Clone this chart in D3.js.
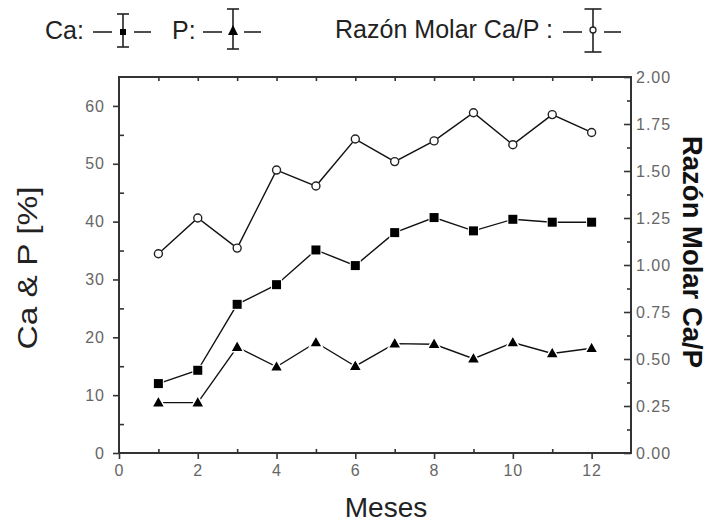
<!DOCTYPE html>
<html><head><meta charset="utf-8">
<script src="https://cdn.jsdelivr.net/npm/d3@7"></script>
<style>body{margin:0;background:#fff}svg{display:block;font-family:"Liberation Sans",Arial,sans-serif}</style>
</head><body>
<svg id="c" width="723" height="524"></svg>
<script>
const months = [1,2,3,4,5,6,7,8,9,10,11,12];
const ca = [12.0,14.3,25.7,29.1,35.1,32.4,38.1,40.7,38.4,40.4,39.9,39.9];
const p = [8.7,8.7,18.3,14.9,19.1,15.0,18.9,18.8,16.3,19.1,17.2,18.1];
const ratio = [1.06,1.25,1.09,1.505,1.42,1.67,1.55,1.66,1.81,1.64,1.80,1.705];
const xTicks = [0,2,4,6,8,10,12];
const yLeftTicks = [0,10,20,30,40,50,60];
const yRightTicks = [0,0.25,0.5,0.75,1,1.25,1.5,1.75,2];

const svg = d3.select("#c");
const L=119,R=631,T=77,B=453;
const x = d3.scaleLinear().domain([0,13]).range([L,R]);
const yl = d3.scaleLinear().domain([0,65]).range([B,T]);
const yr = d3.scaleLinear().domain([0,2]).range([B,T]);
const ax = "#333";

// frame
svg.append("rect").attr("x",L).attr("y",T).attr("width",R-L).attr("height",B-T)
  .attr("fill","none").attr("stroke",ax).attr("stroke-width",2);

const gb = svg.append("g").attr("transform",`translate(0,${B})`)
  .call(d3.axisBottom(x).tickValues(xTicks).tickSize(6).tickPadding(6).tickFormat(d3.format("d")));
const gbm = svg.append("g").attr("transform",`translate(0,${B})`)
  .call(d3.axisTop(x).tickValues(d3.range(1,13,2)).tickSize(4).tickFormat(""));
const gt = svg.append("g").attr("transform",`translate(0,${T})`)
  .call(d3.axisBottom(x).tickValues(d3.range(1,13)).tickSize(4).tickFormat(""));
const gl = svg.append("g").attr("transform",`translate(${L},0)`)
  .call(d3.axisLeft(yl).tickValues(yLeftTicks).tickSize(6).tickPadding(8));
const glm = svg.append("g").attr("transform",`translate(${L},0)`)
  .call(d3.axisRight(yl).tickValues([5,15,25,35,45,55]).tickSize(5).tickFormat(""));
const gr = svg.append("g").attr("transform",`translate(${R},0)`)
  .call(d3.axisLeft(yr).tickValues(yRightTicks).tickSize(7).tickFormat(""));
const grm = svg.append("g").attr("transform",`translate(${R},0)`)
  .call(d3.axisLeft(yr).tickValues(d3.range(0.125,2,0.25)).tickSize(4).tickFormat(""));
const grl = svg.append("g").attr("transform",`translate(${R},0)`)
  .call(d3.axisRight(yr).tickValues(yRightTicks).tickSize(0).tickPadding(5).tickFormat(d3.format(".2f")));

[gb,gbm,gt,gl,glm,gr,grm,grl].forEach(g=>{
  g.select(".domain").remove();
  g.selectAll(".tick line").attr("stroke",ax).attr("stroke-width",1.6);
  g.selectAll(".tick text").attr("fill","#666").attr("font-size",16).attr("letter-spacing",1)
   .attr("font-family","Liberation Sans, Arial, sans-serif");
});

// titles
svg.append("text").attr("transform","translate(37,268) rotate(-90)").attr("text-anchor","middle")
  .attr("font-size",28).attr("fill","#222").attr("textLength",163).attr("lengthAdjust","spacingAndGlyphs").text("Ca & P [%]");
svg.append("text").attr("x",386).attr("y",517).attr("text-anchor","middle")
  .attr("font-size",28).attr("fill","#222").text("Meses");
svg.append("text").attr("transform","translate(683,252) rotate(90)").attr("text-anchor","middle")
  .attr("font-size",28).attr("font-weight","bold").attr("fill","#111").attr("textLength",232).attr("lengthAdjust","spacingAndGlyphs").text("Razón Molar Ca/P");

// series
const line = (ys, sc) => d3.line().x((d,i)=>x(months[i])).y(d=>sc(d))(ys);
function drawSeries(vals, sc, type){
  svg.append("path").attr("d",line(vals,sc)).attr("fill","none").attr("stroke","#111").attr("stroke-width",1.4);
  const g = svg.append("g");
  vals.forEach((v,i)=>{
    const cx=x(months[i]), cy=sc(v);
    if(type==="sq"){
      g.append("rect").attr("x",cx-5.5).attr("y",cy-5.5).attr("width",11).attr("height",11).attr("fill","#fff");
      g.append("rect").attr("x",cx-4.5).attr("y",cy-4.5).attr("width",9).attr("height",9).attr("fill","#000");
    } else if(type==="tri"){
      g.append("path").attr("d",`M${cx},${cy-7}L${cx+6.5},${cy+4.5}L${cx-6.5},${cy+4.5}Z`).attr("fill","#000").attr("stroke","#fff").attr("stroke-width",1.5);
    } else {
      g.append("circle").attr("cx",cx).attr("cy",cy).attr("r",4).attr("fill","#fff").attr("stroke","#222").attr("stroke-width",1.4);
    }
  });
}
drawSeries(ratio, yr, "circ");
drawSeries(ca, yl, "sq");
drawSeries(p, yl, "tri");

// legend
const lg = svg.append("g").attr("fill","#222").attr("font-size",25);
function legSym(cx, top, bot, cap, type){
  const cy=32, st="#222";
  const ln=(x1,y1,x2,y2)=>lg.append("line").attr("x1",x1).attr("x2",x2).attr("y1",y1).attr("y2",y2).attr("stroke",st).attr("stroke-width",1.6);
  ln(cx-30,cy,cx-11,cy); ln(cx+11,cy,cx+28,cy);
  ln(cx,top,cx,bot); ln(cx-cap/2,top,cx+cap/2,top); ln(cx-cap/2,bot,cx+cap/2,bot);
  if(type==="sq") lg.append("rect").attr("x",cx-3).attr("y",cy-3).attr("width",6).attr("height",6).attr("fill","#000");
  else if(type==="tri") lg.append("path").attr("d",`M${cx},${cy-7}L${cx+5},${cy+3}L${cx-5},${cy+3}Z`).attr("fill","#000");
  else lg.append("circle").attr("cx",cx).attr("cy",cy-2).attr("r",3).attr("fill","#fff").attr("stroke","#222").attr("stroke-width",1.3);
}
lg.append("text").attr("x",45).attr("y",39).text("Ca:");
legSym(123,14,47,12,"sq");
lg.append("text").attr("x",172).attr("y",39).text("P:");
legSym(233,9,49,12,"tri");
lg.append("text").attr("x",335).attr("y",38).attr("textLength",218).attr("lengthAdjust","spacingAndGlyphs").text("Razón Molar Ca/P :");
legSym(593,9,52,17,"circ");
</script>
</body></html>
